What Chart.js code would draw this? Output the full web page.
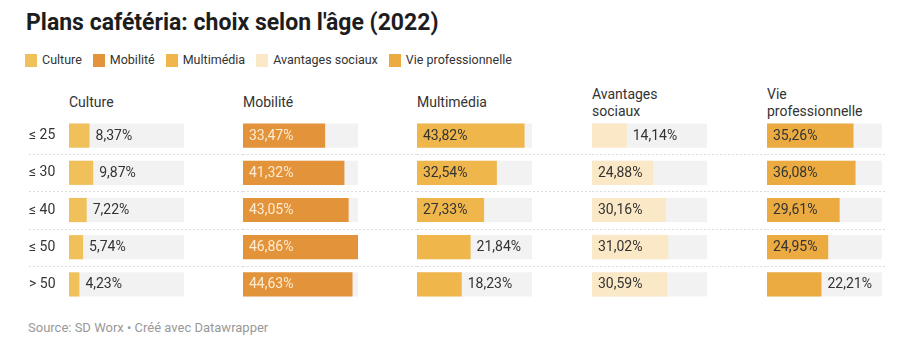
<!DOCTYPE html>
<html>
<head>
<meta charset="utf-8">
<script src="https://cdn.jsdelivr.net/npm/chart.js@4/dist/chart.umd.min.js"></script>
<style>
  html, body { margin: 0; padding: 0; background: #fff; }
  body { width: 924px; height: 360px; position: relative; overflow: hidden; font-family: Roboto, "Noto Sans", sans-serif; color: #333; }
  #title { position: absolute; left: 26px; top: 9px; font-size: 23px; font-weight: 700; color: #1d1d1d; white-space: nowrap; line-height: 27px; }
  #legend { position: absolute; left: 25px; top: 52px; display: flex; align-items: center; font-size: 12.5px; line-height: 16px; color: #333; }
  .li { display: flex; align-items: center; margin-right: 11px; }
  .sw { width: 12px; height: 13px; margin-right: 5px; }
  .hdr { position: absolute; top: 85px; height: 35px; display: flex; align-items: center; font-size: 14px; line-height: 17px; color: #333; }
  canvas { position: absolute; }
  #source { position: absolute; left: 28px; top: 320px; font-size: 13px; color: #999; }
</style>
</head>
<body>
<div id="title">Plans cafétéria: choix selon l'âge (2022)</div>
<div id="legend"></div>
<div id="headers"></div>
<div id="charts"></div>
<div id="source">Source: SD Worx • Créé avec Datawrapper</div>
<script>
// ---- data ----
const ageGroups = ['≤ 25', '≤ 30', '≤ 40', '≤ 50', '> 50'];
const categories = ['Culture', 'Mobilité', 'Multimédia', 'Avantages sociaux', 'Vie professionnelle'];
const headerLines = [['Culture'], ['Mobilité'], ['Multimédia'], ['Avantages', 'sociaux'], ['Vie', 'professionnelle']];
const culture = [8.37, 9.87, 7.22, 5.74, 4.23];
const mobilite = [33.47, 41.32, 43.05, 46.86, 44.63];
const multimedia = [43.82, 32.54, 27.33, 21.84, 18.23];
const avantagesSociaux = [14.14, 24.88, 30.16, 31.02, 30.59];
const vieProfessionnelle = [35.26, 36.08, 29.61, 24.95, 22.21];

// ---- styles ----
const series = [culture, mobilite, multimedia, avantagesSociaux, vieProfessionnelle];
const colors = ['#f0c05a', '#e3943a', '#efb64b', '#fbe8c6', '#ebab40'];
const insideLabelColors = ['#333333', '#fdebd2', '#333333', '#333333', '#333333'];
const colStarts = [69, 243, 417, 592, 767];
const plotWidth = 115;
const chartTop = 117, chartHeight = 186;
const lineLeft = 29, lineRight = 887;
const xMax = Math.max(...series.flat());

// legend
const legendEl = document.getElementById('legend');
categories.forEach((c, i) => {
  const d = document.createElement('div');
  d.className = 'li';
  d.innerHTML = '<span class="sw" style="background:' + colors[i] + '"></span><span>' + c + '</span>';
  legendEl.appendChild(d);
});

// headers
const hdrEl = document.getElementById('headers');
headerLines.forEach((lines, i) => {
  const d = document.createElement('div');
  d.className = 'hdr';
  d.style.left = colStarts[i] + 'px';
  d.innerHTML = lines.join('<br>');
  hdrEl.appendChild(d);
});

const fmt = v => v.toFixed(2).replace('.', ',') + '%';

const trackPlugin = {
  id: 'track',
  beforeDatasetsDraw(chart) {
    const ctx = chart.ctx, a = chart.chartArea;
    const meta = chart.getDatasetMeta(0);
    ctx.save();
    ctx.fillStyle = '#f2f2f2';
    meta.data.forEach(bar => {
      ctx.fillRect(a.left, bar.y - bar.height / 2, a.right - a.left, bar.height);
    });
    ctx.restore();
  }
};

const sepPlugin = {
  id: 'sep',
  afterDraw(chart, args, opts) {
    const ctx = chart.ctx;
    const ys = chart.scales.y;
    ctx.save();
    ctx.strokeStyle = '#dcdcdc';
    ctx.lineWidth = 1;
    ctx.setLineDash([2, 2]);
    for (let k = 0; k < ageGroups.length - 1; k++) {
      const y = Math.round((ys.getPixelForValue(k) + ys.getPixelForValue(k + 1)) / 2) + 0.5;
      ctx.beginPath();
      ctx.moveTo(opts.x0, y);
      ctx.lineTo(opts.x1, y);
      ctx.stroke();
    }
    ctx.restore();
  }
};

const labelPlugin = {
  id: 'vlabels',
  afterDatasetsDraw(chart, args, opts) {
    const ctx = chart.ctx;
    const meta = chart.getDatasetMeta(0);
    const data = chart.data.datasets[0].data;
    ctx.save();
    ctx.font = '14px Roboto, "Noto Sans", sans-serif';
    ctx.textBaseline = 'middle';
    ctx.textAlign = 'left';
    meta.data.forEach((bar, j) => {
      const t = fmt(data[j]);
      const w = ctx.measureText(t).width;
      const barW = bar.x - bar.base;
      if (barW >= w + 14) {
        ctx.fillStyle = opts.inside;
        ctx.fillText(t, bar.base + 6, bar.y + 0.5);
      } else {
        ctx.fillStyle = '#333333';
        ctx.fillText(t, bar.x + 6, bar.y + 0.5);
      }
    });
    ctx.restore();
  }
};

const chartsEl = document.getElementById('charts');
series.forEach((vals, i) => {
  const left = i === 0 ? 0 : colStarts[i];
  const right = i < series.length - 1 ? colStarts[i + 1] : 890;
  const width = right - left;
  const cv = document.createElement('canvas');
  cv.width = width; cv.height = chartHeight;
  cv.style.left = left + 'px'; cv.style.top = chartTop + 'px';
  cv.style.width = width + 'px'; cv.style.height = chartHeight + 'px';
  chartsEl.appendChild(cv);
  const padLeft = i === 0 ? lineLeft : 0;
  const yAxisW = i === 0 ? colStarts[0] - lineLeft : 0;
  const padRight = width - (colStarts[i] - left) - plotWidth;
  new Chart(cv, {
    type: 'bar',
    data: {
      labels: ageGroups,
      datasets: [{
        label: categories[i],
        data: vals,
        backgroundColor: colors[i],
        borderWidth: 0,
        barPercentage: 0.65,
        categoryPercentage: 1
      }]
    },
    options: {
      indexAxis: 'y',
      responsive: false,
      animation: false,
      devicePixelRatio: 1,
      layout: { padding: { left: padLeft, right: padRight, top: 0, bottom: 0 } },
      scales: {
        x: { display: false, min: 0, max: xMax },
        y: {
          display: i === 0,
          grid: { display: false },
          border: { display: false },
          ticks: { color: '#333', font: { family: 'Roboto', size: 14 }, crossAlign: 'far', padding: 0 },
          afterFit: s => { s.width = yAxisW; s.paddingTop = 0; s.paddingBottom = 0; }
        }
      },
      plugins: {
        legend: { display: false },
        tooltip: { enabled: false },
        sep: { x0: i === 0 ? lineLeft : 0, x1: i === series.length - 1 ? lineRight - left : width },
        vlabels: { inside: insideLabelColors[i] }
      }
    },
    plugins: [trackPlugin, sepPlugin, labelPlugin]
  });
});
</script>
</body>
</html>
